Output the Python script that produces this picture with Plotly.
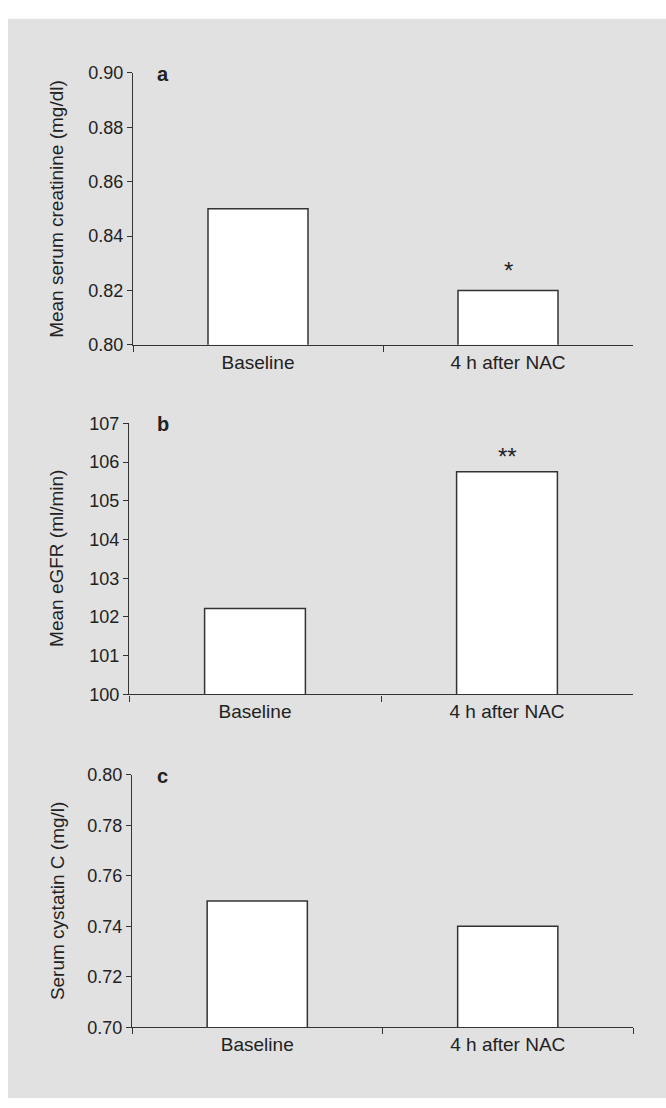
import plotly.graph_objects as go

# ---------------- data ----------------
categories = ["Baseline", "4 h after NAC"]
creatinine = [0.85, 0.82]          # mg/dl
egfr = [102.22, 105.75]            # ml/min
cystatin = [0.75, 0.74]            # mg/l
sig_creatinine = ["", "*"]
sig_egfr = ["", "**"]
sig_cystatin = ["", ""]

ticks_creatinine = [0.80, 0.82, 0.84, 0.86, 0.88, 0.90]
ticks_egfr = [100, 101, 102, 103, 104, 105, 106, 107]
ticks_cystatin = [0.70, 0.72, 0.74, 0.76, 0.78, 0.80]

titles = ["Mean serum creatinine (mg/dl)", "Mean eGFR (ml/min)", "Serum cystatin C (mg/l)"]
panel_letters = ["a", "b", "c"]

# ---------------- layout geometry ----------------
W, H = 666, 1108
FONT = "Liberation Sans, Arial, sans-serif"
TXT = "#222222"
LINE = "#333333"
BG = "#e1e1e1"

# plot areas in pixels: (x0, x1, ytop, ybottom)
areas = [(133, 633, 64, 341), (129, 633, 421, 697), (132, 633, 779, 1036)]

def px_dom_x(a, b):
    return [a / W, b / W]

def px_dom_y(top, bottom):
    return [1 - bottom / H, 1 - top / H]

panels = [
    (creatinine, sig_creatinine, ticks_creatinine, ".2f", 20),
    (egfr, sig_egfr, ticks_egfr, "d", 15),
    (cystatin, sig_cystatin, ticks_cystatin, ".2f", 15),
]

fig = go.Figure()
layout = dict(
    width=W, height=H,
    margin=dict(l=0, r=0, t=0, b=0),
    paper_bgcolor="white",
    plot_bgcolor="rgba(0,0,0,0)",
    showlegend=False,
    font=dict(family=FONT, size=18, color=TXT),
    shapes=[dict(type="rect", xref="paper", yref="paper",
                 x0=8 / W, x1=1, y0=0, y1=1 - 9 / H,
                 fillcolor=BG, line=dict(width=0), layer="below")],
    annotations=[],
)

for i, (vals, sig, ticks, fmt, ashift) in enumerate(panels):
    n = "" if i == 0 else str(i + 1)
    x0, x1, yt, yb = areas[i]
    fig.add_trace(go.Bar(
        x=categories, y=vals, width=0.4,
        marker=dict(color="white", line=dict(color=LINE, width=1.5)),
        xaxis="x" + n, yaxis="y" + n, hoverinfo="skip",
    ))
    layout["xaxis" + n] = dict(
        domain=px_dom_x(x0, x1), anchor="y" + n, type="category",
        range=[-0.5, 1.5], tickson="boundaries", ticks="outside",
        ticklen=6, tickwidth=1.2, tickcolor=LINE,
        showline=True, linecolor=LINE, linewidth=1.2,
        showgrid=False, zeroline=False,
        tickfont=dict(family=FONT, size=19, color=TXT),
        fixedrange=True,
    )
    layout["yaxis" + n] = dict(
        domain=px_dom_y(yt, yb), anchor="x" + n,
        range=[ticks[0], ticks[-1]], tickmode="array", tickvals=ticks,
        tickformat=fmt, ticks="outside", ticklen=5, tickwidth=1.2,
        tickcolor=LINE, showline=True, linecolor=LINE, linewidth=1.2,
        showgrid=False, zeroline=False,
        tickfont=dict(family=FONT, size=18, color=TXT),
        fixedrange=True,
    )
    # y title
    layout["annotations"].append(dict(
        text=titles[i], xref="paper", yref="paper",
        x=57 / W, y=1 - (yt + yb) / 2 / H, textangle=-90,
        showarrow=False, xanchor="center", yanchor="middle",
        font=dict(family=FONT, size=19, color=TXT),
    ))
    # panel letter
    layout["annotations"].append(dict(
        text="<b>%s</b>" % panel_letters[i], xref="paper", yref="paper",
        x=155 / W, y=1 - (yt + 1) / H, showarrow=False,
        xanchor="left", yanchor="middle",
        font=dict(family=FONT, size=20, color=TXT),
    ))
    # significance markers
    for c, v, s in zip(categories, vals, sig):
        if s:
            layout["annotations"].append(dict(
                text=s, x=c, y=v, xref="x" + n, yref="y" + n,
                showarrow=False, xanchor="center", yanchor="middle",
                yshift=ashift, font=dict(family=FONT, size=24, color=TXT),
            ))

fig.update_layout(**layout)
fig.write_html(
    "out.html",
    config={"displayModeBar": False},
    post_script=(
        "document.body.style.margin='0';"
        "document.body.style.overflow='hidden';"
        "var d=document.getElementById('{plot_id}');"
        "d.style.position='fixed';d.style.left='0px';d.style.top='0px';"
    ),
)
